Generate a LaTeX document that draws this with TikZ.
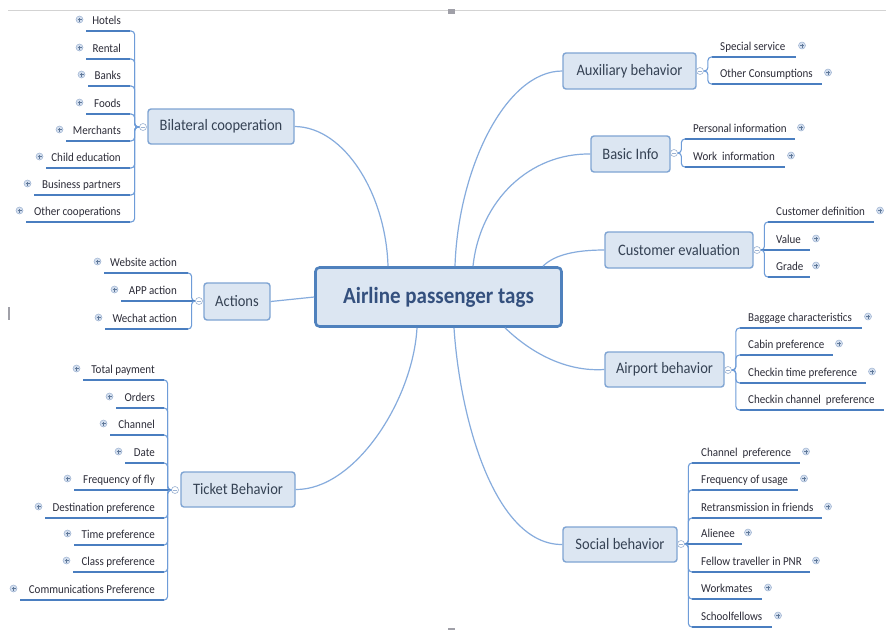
\documentclass[tikz,border=0pt]{standalone}
\usepackage{fontspec}
\setmainfont{Carlito}
\usepackage{graphicx}
\usetikzlibrary{calc}

\definecolor{twigc}{HTML}{6E9CD8}
\definecolor{branchc}{HTML}{86ACDD}
\definecolor{ulinec}{HTML}{4A7EC0}
\definecolor{boxfill}{HTML}{DCE6F2}
\definecolor{boxdraw}{HTML}{7FA4D3}
\definecolor{maintext}{HTML}{354254}
\definecolor{leaftext}{HTML}{2C2C38}
\definecolor{cenborder}{HTML}{4F81BD}
\definecolor{centext}{HTML}{34507E}
\definecolor{plusfill}{HTML}{D3DEEE}
\definecolor{plusdraw}{HTML}{9DB3D2}
\definecolor{plusmark}{HTML}{5F7899}
\definecolor{framec}{HTML}{D3D3D3}
\definecolor{markc}{HTML}{A0A0A8}

\newcommand{\tx}[1]{\scalebox{1}[1.1]{#1}}

\tikzset{
 mainbox/.style={draw=boxdraw, line width=1.4pt, fill=boxfill, rounded corners=3pt, text=maintext, font=\fontsize{14.5}{16}\selectfont, inner sep=0pt},
 centerbox/.style={draw=cenborder, line width=2.6pt, fill=boxfill, rounded corners=4pt, text=centext, font=\fontsize{21}{24}\selectfont\bfseries, inner sep=0pt},
 leaf/.style={text=leaftext, font=\fontsize{11}{12}\selectfont, inner sep=0pt},
 uline/.style={draw=ulinec, line width=1.7pt},
 twig/.style={draw=twigc, line width=1.1pt, rounded corners=3.5pt},
 branch/.style={draw=branchc, line width=1.2pt},
 knob/.style={circle, draw=plusdraw, fill=white, line width=0.6pt, minimum size=7pt, inner sep=0pt,
   path picture={\draw[plusdraw, line width=0.5pt] ([xshift=-2pt]path picture bounding box.center) -- ([xshift=2pt]path picture bounding box.center);}},
 plusic/.style={circle, draw=plusdraw, fill=plusfill, line width=0.5pt, minimum size=7pt, inner sep=0pt,
   path picture={\draw[plusmark, line width=0.5pt] ([xshift=-2pt]path picture bounding box.center) -- ([xshift=2pt]path picture bounding box.center)
     ([yshift=-2pt]path picture bounding box.center) -- ([yshift=2pt]path picture bounding box.center);}},
}

% left leaf: name, text, underline y, underline left x, underline right x, text right x, knob
\newcommand{\lleaf}[7]{%
 \node[leaf, anchor=base east] (#1) at (#6,#3-6.5) {\tx{#2}};
 \coordinate (#1a) at (#4,#3);
 \coordinate (#1b) at (#5,#3);
 \coordinate (#1m) at ($(#7.west)!0.5!(#1b)$);
 \draw[uline] (#1a) -- (#1b);
 \node[plusic] (#1p) at (#4-6.5,#3-11.5) {};
 \draw[twig] (#7.west) -- (#1m |- #7.west) -- (#1m |- #1b) -- (#1b);
}
% left straight leaf: name, text, underline y, underline left x, text right x, knob
\newcommand{\lleafs}[6]{%
 \node[leaf, anchor=base east] (#1) at (#5,#3-6.5) {\tx{#2}};
 \coordinate (#1a) at (#4,#3);
 \draw[uline] (#1a) -- (#6.west);
 \node[plusic] (#1p) at (#4-6.5,#3-11.5) {};
}
% right leaf: name, text, underline y, underline start x, underline end x, text left x, knob
\newcommand{\rleaf}[7]{%
 \node[leaf, anchor=base west] (#1) at (#6,#3-6.5) {\tx{#2}};
 \coordinate (#1a) at (#4,#3);
 \coordinate (#1b) at (#5,#3);
 \coordinate (#1m) at ($(#7.east)!0.5!(#1a)$);
 \draw[uline] (#1a) -- (#1b);
 \node[plusic] (#1p) at (#5+6,#3-11.5) {};
 \draw[twig] (#7.east) -- (#1m |- #7.east) -- (#1m |- #1a) -- (#1a);
}
% right straight leaf: name, text, underline y, underline end x, text left x, knob
\newcommand{\rleafs}[6]{%
 \node[leaf, anchor=base west] (#1) at (#5,#3-6.5) {\tx{#2}};
 \coordinate (#1b) at (#4,#3);
 \draw[uline] (#6.east) -- (#1b);
 \node[plusic] (#1p) at (#4+6,#3-11.5) {};
}

\begin{document}
\begin{tikzpicture}[x=1pt,y=-1pt]
\useasboundingbox (0,0) rectangle (886,630);
\fill[white] (0,0) rectangle (886,630);

% screenshot frame marks
\draw[framec, line width=1pt] (8,10.5) -- (886,10.5);
\fill[markc] (448,9) rectangle (455,14);
\fill[markc] (448,628) rectangle (455,630);
\fill[markc] (8,307) rectangle (9.5,320);

% central node
\node[centerbox, minimum width=246pt, minimum height=59pt] (cen) at (438.5,297) {\tx{Airline passenger tags}};

% main nodes
\node[mainbox, minimum width=146pt, minimum height=35pt] (bil) at (221,126.5) {\tx{Bilateral cooperation}};
\node[mainbox, minimum width=66pt, minimum height=37pt] (act) at (237,301.5) {\tx{Actions}};
\node[mainbox, minimum width=114pt, minimum height=35pt] (tic) at (238,489.5) {\tx{Ticket Behavior}};
\node[mainbox, minimum width=133pt, minimum height=36pt] (aux) at (629.5,71) {\tx{Auxiliary behavior}};
\node[mainbox, minimum width=79pt, minimum height=36pt] (bas) at (630.5,154) {\tx{Basic Info}};
\node[mainbox, minimum width=148pt, minimum height=36pt] (cev) at (679,250) {\tx{Customer evaluation}};
\node[mainbox, minimum width=119pt, minimum height=35pt] (air) at (664.5,369.5) {\tx{Airport behavior}};
\node[mainbox, minimum width=114pt, minimum height=35pt] (soc) at (620,544.5) {\tx{Social behavior}};

% branches from centre
\draw[branch] (bil.east) .. controls (345,127) and (386,195) .. ([xshift=-50.5pt]cen.north);
\draw[branch] (act.east) -- (cen.west);
\draw[branch] (tic.east) .. controls (355,490) and (413,400) .. ([xshift=-21.5pt]cen.south);
\draw[branch] (aux.west) .. controls (505,71) and (458,170) .. ([xshift=16.5pt]cen.north);
\draw[branch] (bas.west) .. controls (530,153) and (480,200) .. ([xshift=34.5pt]cen.north);
\draw[branch] (cev.west) .. controls (578,250) and (555,254) .. ([xshift=104.5pt]cen.north);
\draw[branch] (air.west) .. controls (565,372) and (530,352) .. ([xshift=66.5pt]cen.south);
\draw[branch] (soc.west) .. controls (495,545) and (460,420) .. ([xshift=15.5pt]cen.south);

% knobs
\node[knob] (bilk) at (143,127) {};
\node[knob] (actk) at (199,301) {};
\node[knob] (tick) at (175,490) {};
\node[knob] (auxk) at (700,71) {};
\node[knob] (bask) at (674,153) {};
\node[knob] (cevk) at (757,250) {};
\node[knob] (airk) at (728,370) {};
\node[knob] (sock) at (681,544) {};

% Bilateral cooperation
\lleaf{h1}{Hotels}{31}{86}{130}{121}{bilk}
\lleaf{h2}{Rental}{59}{86}{130}{121}{bilk}
\lleaf{h3}{Banks}{86}{88}{130}{121}{bilk}
\lleaf{h4}{Foods}{114}{86}{130}{121}{bilk}
\lleaf{h5}{Merchants}{141}{66}{130}{121}{bilk}
\lleaf{h6}{Child education}{168}{46}{130}{121}{bilk}
\lleaf{h7}{Business partners}{195}{34}{130}{121}{bilk}
\lleaf{h8}{Other cooperations}{222}{26}{130}{121}{bilk}

% Actions
\lleaf{a1}{Website action}{273}{104}{188}{177}{actk}
\lleafs{a2}{APP action}{301}{121}{177}{actk}
\lleaf{a3}{Wechat action}{329}{105}{188}{177}{actk}

% Ticket Behavior
\lleaf{t1}{Total payment}{380}{83}{164}{155}{tick}
\lleaf{t2}{Orders}{408}{116}{164}{155}{tick}
\lleaf{t3}{Channel}{435}{110}{164}{155}{tick}
\lleaf{t4}{Date}{463}{125}{164}{155}{tick}
\lleafs{t5}{Frequency of fly}{490}{74}{155}{tick}
\lleaf{t6}{Destination preference}{518}{45}{164}{155}{tick}
\lleaf{t7}{Time preference}{545}{74}{164}{155}{tick}
\lleaf{t8}{Class preference}{572}{73}{164}{155}{tick}
\lleaf{t9}{Communications Preference}{600}{20}{164}{155}{tick}

% Auxiliary behavior
\rleaf{x1}{Special service}{57}{712}{796}{720}{auxk}
\rleaf{x2}{Other Consumptions}{84}{712}{822}{720}{auxk}

% Basic Info
\rleaf{b1}{Personal information}{139}{685}{795}{693}{bask}
\rleaf{b2}{Work\ \ information}{167}{685}{785}{693}{bask}

% Customer evaluation
\rleaf{c1}{Customer definition}{222}{768}{874}{776}{cevk}
\rleafs{c2}{Value}{250}{810}{776}{cevk}
\rleaf{c3}{Grade}{277}{768}{810}{776}{cevk}

% Airport behavior
\rleaf{p1}{Baggage characteristics}{328}{740}{862}{748}{airk}
\rleaf{p2}{Cabin preference}{355}{740}{833}{748}{airk}
\rleaf{p3}{Checkin time preference}{383}{740}{866}{748}{airk}
\node[leaf, anchor=base west] (p4) at (748,403.5) {\tx{Checkin channel\ \ preference}};
\coordinate (p4a) at (740,410);
\coordinate (p4b) at (884,410);
\coordinate (p4m) at ($(airk.east)!0.5!(p4a)$);
\draw[uline] (p4a) -- (p4b);
\draw[twig] (airk.east) -- (p4m |- airk.east) -- (p4m |- p4a) -- (p4a);

% Social behavior
\rleaf{s1}{Channel\ \ preference}{463}{692}{800}{701}{sock}
\rleaf{s2}{Frequency of usage}{490}{692}{798}{701}{sock}
\rleaf{s3}{Retransmission in friends}{518}{692}{822}{701}{sock}
\rleafs{s4}{Alienee}{544}{742}{701}{sock}
\rleaf{s5}{Fellow traveller in PNR}{572}{692}{810}{701}{sock}
\rleaf{s6}{Workmates}{599}{692}{762}{701}{sock}
\rleaf{s7}{Schoolfellows}{627}{692}{772}{701}{sock}
\end{tikzpicture}
\end{document}
